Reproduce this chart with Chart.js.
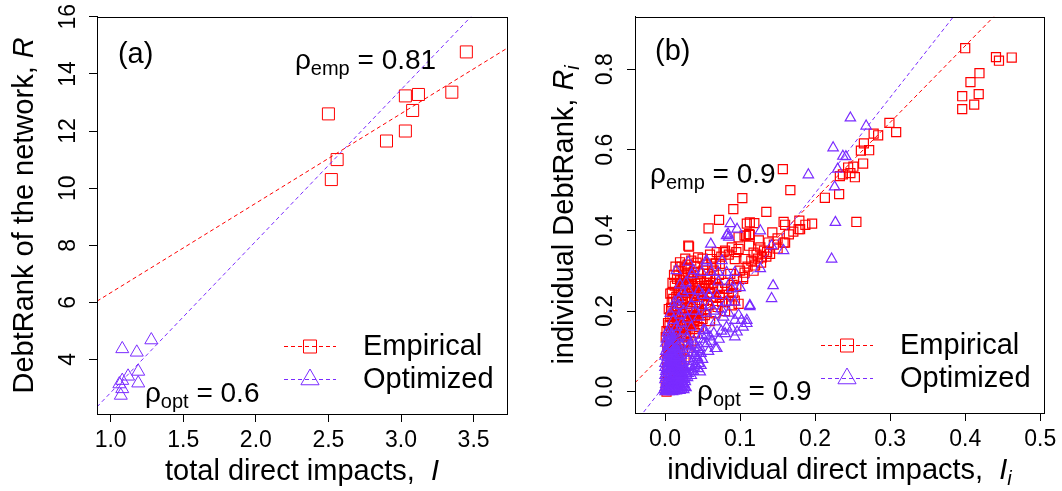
<!DOCTYPE html>
<html>
<head>
<meta charset="utf-8">
<script src="https://cdn.jsdelivr.net/npm/chart.js@4"></script>
<style>
  body { margin: 0; background: #fff; }
  canvas { position: absolute; top: 0; }
</style>
</head>
<body>
<canvas id="panelA" width="531" height="491" style="left:0"></canvas>
<canvas id="panelB" width="531" height="491" style="left:531px"></canvas>
<script>
// ---- panel (a): whole network ----
const totalEmpX = [2.50, 2.56, 2.52, 2.90, 3.03, 3.03, 3.12, 3.08, 3.35, 3.45];
const totalEmpY = [12.60, 11.00, 10.30, 11.65, 12.00, 13.23, 13.28, 12.72, 13.36, 14.77];
const totalOptX = [1.08, 1.18, 1.28, 1.19, 1.12, 1.08, 1.06, 1.19, 1.08, 1.07];
const totalOptY = [4.37, 4.25, 4.68, 3.58, 3.41, 3.26, 3.14, 3.17, 2.97, 2.74];
const totalFitEmp = [3.20, 3.136];   // intercept, slope
const totalFitOpt = [-2.467, 5.305];
const totalTicksX = [1.0, 1.5, 2.0, 2.5, 3.0, 3.5];
const totalTicksY = [4, 6, 8, 10, 12, 14, 16];
const rhoTotal = ["0.81", "0.6"];

// ---- panel (b): individual banks ----
const indivEmp = [
  [0.400,0.852],[0.441,0.830],[0.445,0.821],[0.462,0.829],[0.419,0.790],[0.407,0.768],[0.418,0.738],[0.396,0.733],[0.412,0.712],[0.396,0.701],
  [0.299,0.667],[0.308,0.644],[0.284,0.636],[0.278,0.640],[0.265,0.616],[0.272,0.599],[0.261,0.598],[0.264,0.566],[0.251,0.558],[0.244,0.556],
  [0.247,0.542],[0.253,0.532],[0.233,0.535],[0.237,0.539],[0.232,0.490],[0.213,0.481],[0.157,0.552],[0.167,0.500],[0.103,0.480],[0.091,0.453],
  [0.135,0.446],[0.072,0.426],[0.058,0.405],[0.113,0.420],[0.109,0.417],[0.119,0.418],[0.158,0.421],[0.179,0.424],[0.187,0.414],[0.196,0.417],
  [0.255,0.421],[0.143,0.395],[0.171,0.397],[0.178,0.403],[0.108,0.387],[0.113,0.389],[0.112,0.391],[0.160,0.414],[0.180,0.403],[0.031,0.362],
  [0.098,0.383],[0.106,0.387],[0.089,0.358],[0.098,0.354],[0.112,0.362],[0.127,0.358],[0.138,0.370],[0.160,0.370],[0.129,0.333],[0.140,0.342],
  [0.120,0.313],[0.107,0.329],[0.093,0.329],[0.080,0.350],[0.069,0.346],[0.062,0.329],[0.044,0.333],[0.020,0.321],[0.027,0.305],[0.018,0.300],
  [0.020,0.276],[0.036,0.280],[0.044,0.296],[0.104,0.284],[0.007,0.243],[0.013,0.263],[0.024,0.255],[0.040,0.268],[0.053,0.255],[0.076,0.255],
  [0.009,0.222],[0.027,0.226],[0.049,0.218],[0.093,0.226],[0.062,0.235],[0.098,0.218],[0.032,0.360],[0.158,0.370],[0.136,0.346],[0.095,0.346],
  [0.078,0.346],[0.051,0.300],[0.029,0.305],[0.047,0.280],[0.073,0.317],[0.087,0.292],[0.067,0.280],[0.009,0.245],[0.104,0.280],[0.150,0.380],
  [0.145,0.365],[0.165,0.390],[0.125,0.375],[0.118,0.345],[0.150,0.355],[0.076,0.222],[0.089,0.214],[0.067,0.194],[0.055,0.205],[0.045,0.200],
  [0.035,0.210],[0.030,0.195],[0.020,0.205],[0.015,0.190],[0.040,0.185],[0.050,0.180],[0.060,0.175],[0.025,0.175],[0.035,0.170],[0.012,0.170],
  [0.020,0.160],[0.030,0.155],[0.045,0.160],[0.008,0.150],[0.018,0.140],[0.028,0.140],[0.040,0.145],[0.005,0.130],[0.015,0.125],[0.025,0.120],
  [0.035,0.125],[0.010,0.110],[0.020,0.105],[0.030,0.100],[0.004,0.095],[0.012,0.090],[0.022,0.085],[0.008,0.075],[0.016,0.070],[0.003,0.060],
  [0.010,0.055],[0.018,0.050],[0.004,0.040],[0.012,0.035],[0.002,0.025],[0.008,0.020],[0.001,0.010],[0.005,0.005],[0.002,0.000],[0.015,0.235],
  [0.030,0.245],[0.045,0.250],[0.058,0.265],[0.035,0.290],[0.025,0.290],[0.050,0.240],[0.060,0.245],[0.070,0.260],[0.080,0.270],[0.085,0.240],
  [0.065,0.300],[0.055,0.315],[0.040,0.310],[0.010,0.270],[0.005,0.205],[0.030,0.230],[0.070,0.210],[0.080,0.200],
  [0.003,0.115],[0.006,0.125],[0.009,0.135],[0.012,0.145],[0.014,0.155],[0.017,0.165],[0.006,0.165],[0.010,0.180],[0.013,0.195],[0.016,0.210],
  [0.019,0.225],[0.022,0.240],[0.026,0.250],[0.028,0.265],[0.031,0.275],[0.034,0.285],[0.038,0.295],[0.022,0.215],[0.026,0.195],[0.029,0.185],
  [0.032,0.175],[0.037,0.190],[0.041,0.205],[0.043,0.220],[0.046,0.235],[0.052,0.225],[0.057,0.215],[0.048,0.195],[0.053,0.190],[0.036,0.235],
  [0.039,0.250],[0.042,0.262],[0.033,0.258],[0.028,0.232],[0.024,0.262],[0.019,0.250],[0.016,0.280],[0.012,0.290],[0.022,0.310],[0.014,0.310],
  [0.027,0.330],[0.035,0.325],[0.060,0.285],[0.064,0.270],[0.072,0.290],[0.077,0.240],[0.083,0.255],[0.090,0.265],[0.096,0.280],[0.100,0.300],
  [0.110,0.310],[0.115,0.325],[0.122,0.340],[0.132,0.350],[0.128,0.320],[0.010,0.200],[0.007,0.185],[0.004,0.170],[0.002,0.150],[0.001,0.135],
  [0.007,0.105],[0.013,0.115],[0.018,0.120],[0.023,0.135],[0.027,0.160],[0.033,0.145],[0.038,0.155],[0.043,0.175],[0.017,0.095],[0.024,0.100],
  [0.014,0.080],[0.009,0.065],[0.006,0.045],[0.003,0.080],[0.015,0.060],[0.020,0.065],[0.026,0.080],[0.047,0.270],[0.056,0.280],[0.062,0.255],
  [0.068,0.225],[0.073,0.235],[0.085,0.225],[0.091,0.245],[0.095,0.260],[0.106,0.295],[0.118,0.300],[0.124,0.330],[0.135,0.335],[0.030,0.315],
  [0.042,0.320],[0.050,0.330],[0.060,0.340],[0.075,0.335],[0.085,0.340],
  [0.011,0.230],[0.017,0.245],[0.021,0.270],[0.026,0.282],[0.031,0.295],[0.008,0.208],[0.015,0.218],[0.023,0.198],[0.034,0.222],[0.039,0.238],
  [0.044,0.243],[0.049,0.262],[0.054,0.270],[0.057,0.292],[0.063,0.310],[0.068,0.318],[0.032,0.265],[0.018,0.185],[0.024,0.165],[0.029,0.170],
  [0.039,0.172],[0.033,0.200],[0.011,0.158],[0.005,0.145],[0.021,0.148],[0.026,0.138],[0.031,0.118],[0.015,0.105],[0.009,0.095]
];
const indivOpt = [
  [0.247,0.679],[0.268,0.659],[0.224,0.605],[0.237,0.584],[0.241,0.583],[0.230,0.552],[0.191,0.538],[0.226,0.508],[0.227,0.420],[0.087,0.417],
  [0.096,0.403],[0.127,0.399],[0.084,0.391],[0.085,0.383],[0.061,0.366],[0.142,0.362],[0.158,0.350],[0.031,0.321],[0.056,0.321],[0.076,0.325],
  [0.049,0.296],[0.062,0.296],[0.071,0.296],[0.082,0.296],[0.093,0.296],[0.127,0.305],[0.071,0.272],[0.087,0.272],[0.100,0.258],[0.144,0.263],
  [0.142,0.231],[0.031,0.251],[0.013,0.222],[0.050,0.239],[0.059,0.239],[0.069,0.239],[0.082,0.222],[0.093,0.222],[0.113,0.214],[0.089,0.255],
  [0.222,0.329],[0.055,0.325],[0.082,0.387],[0.058,0.239],[0.040,0.231],[0.018,0.214],[0.007,0.194],[0.011,0.177],[0.004,0.152],[0.113,0.211],
  [0.098,0.190],[0.093,0.177],[0.102,0.177],[0.109,0.177],[0.082,0.160],[0.089,0.156],[0.096,0.148],[0.104,0.160],[0.109,0.169],[0.080,0.144],
  [0.093,0.136],[0.067,0.173],[0.067,0.107],[0.051,0.152],[0.049,0.140],[0.040,0.116],[0.044,0.104],[0.040,0.090],[0.044,0.079],[0.045,0.070],
  [0.039,0.061],[0.044,0.057],[0.031,0.111],[0.031,0.082],[0.033,0.062],[0.031,0.045],[0.069,0.107],[0.042,0.099],[0.036,0.054],[0.029,0.045],
  [0.047,0.049],[0.033,0.115],[0.029,0.136],[0.053,0.152],[0.060,0.136],[0.056,0.119],[0.020,0.190],[0.030,0.180],[0.015,0.160],[0.025,0.150],
  [0.035,0.160],[0.010,0.130],[0.020,0.120],[0.030,0.130],[0.040,0.200],[0.050,0.210],[0.025,0.200],
  [0.000,0.000],[0.005,0.000],[0.010,0.000],[0.015,0.002],[0.020,0.003],[0.025,0.005],[0.028,0.010],[0.000,0.010],[0.005,0.012],[0.010,0.012],
  [0.015,0.015],[0.020,0.018],[0.025,0.020],[0.002,0.025],[0.008,0.025],[0.013,0.028],[0.018,0.030],[0.023,0.032],[0.000,0.040],[0.005,0.038],
  [0.010,0.042],[0.015,0.045],[0.020,0.048],[0.025,0.050],[0.002,0.055],[0.007,0.058],[0.012,0.060],[0.017,0.062],[0.022,0.065],[0.000,0.070],
  [0.005,0.072],[0.010,0.075],[0.015,0.078],[0.020,0.080],[0.003,0.085],[0.008,0.088],[0.013,0.090],[0.018,0.095],[0.001,0.100],[0.006,0.102],
  [0.011,0.105],[0.004,0.115],[0.009,0.120],[0.002,0.130],[0.007,0.135],[0.003,0.145],[-0.001,0.005],[0.001,0.050],[0.003,0.020],[0.012,0.007],
  [0.018,0.010],[0.022,0.012],[0.027,0.025],[0.030,0.035],[0.028,0.045],
  [0.002,0.003],[0.007,0.004],[0.012,0.002],[0.017,0.005],[0.022,0.007],[0.026,0.012],[0.003,0.008],[0.008,0.016],[0.013,0.019],[0.017,0.022],
  [0.022,0.024],[0.026,0.030],[0.004,0.030],[0.009,0.033],[0.014,0.035],[0.019,0.038],[0.024,0.040],[0.029,0.040],[0.002,0.045],[0.007,0.046],
  [0.012,0.050],[0.017,0.053],[0.021,0.056],[0.026,0.058],[0.004,0.063],[0.009,0.066],[0.014,0.068],[0.019,0.072],[0.024,0.073],[0.002,0.078],
  [0.007,0.081],[0.012,0.083],[0.017,0.086],[0.022,0.090],[0.005,0.093],[0.010,0.096],[0.015,0.099],[0.020,0.104],[0.003,0.108],[0.008,0.110],
  [0.013,0.112],[0.017,0.116],[0.006,0.125],[0.011,0.128],[0.015,0.132],[0.004,0.138],[0.009,0.142],[0.001,0.120],[0.000,0.088],[0.000,0.060],
  [0.000,0.030],[0.001,0.018],[0.006,0.007],[0.011,0.021],[0.016,0.027],[0.021,0.033],[0.027,0.036],[0.013,0.044],[0.018,0.058],[0.023,0.070],
  [0.035,0.040],[0.038,0.050],[0.041,0.065],[0.037,0.075],[0.043,0.085],[0.048,0.095],[0.036,0.095],[0.046,0.110],[0.052,0.120],[0.038,0.125],
  [0.047,0.130],[0.055,0.140],[0.034,0.105],[0.050,0.080],[0.048,0.065],[0.058,0.100],[0.062,0.125],[0.065,0.145],[0.072,0.130],[0.075,0.150],
  [0.012,0.205],[0.018,0.230],[0.024,0.245],[0.028,0.270],[0.036,0.290],[0.022,0.170],[0.016,0.145],[0.035,0.215],[0.045,0.250],[0.045,0.185],
  [0.055,0.195],[0.060,0.215],[0.065,0.200],[0.075,0.205],[0.085,0.195],[0.078,0.185],[0.020,0.265],[0.038,0.300],[0.015,0.300],
  [0.004,0.004],[0.009,0.009],[0.014,0.010],[0.019,0.014],[0.024,0.016],[0.001,0.035],[0.006,0.050],[0.011,0.055],[0.016,0.040],[0.021,0.043],
  [0.004,0.068],[0.009,0.078],[0.014,0.085],[0.019,0.090],[0.003,0.095],[0.008,0.100],[0.012,0.118],[0.006,0.112]
];
const indivFitEmp = [0.098, 1.900];
const indivFitOpt = [0.017, 2.376];
const indivTicksX = [0.0, 0.1, 0.2, 0.3, 0.4, 0.5];
const indivTicksY = [0.0, 0.2, 0.4, 0.6, 0.8];
const rhoIndiv = ["0.9", "0.9"];

const seriesNames = ["Empirical", "Optimized"];

const EMP_COLOR = "#ff0000";
const OPT_COLOR = "#7a2bff";
const FAMILY = '"Liberation Sans", Arial, Helvetica, sans-serif';
const font = (size, italic) => (italic ? "italic " : "") + size + "px " + FAMILY;

// draw a run of text pieces: [text, size, italic, dy]
function drawParts(ctx, parts, x, y, align) {
  let w = 0;
  parts.forEach(p => { ctx.font = font(p[1], p[2]); w += ctx.measureText(p[0]).width; });
  let cx = align === "center" ? x - w / 2 : x;
  ctx.textAlign = "left";
  parts.forEach(p => {
    ctx.font = font(p[1], p[2]);
    ctx.fillText(p[0], cx, y + (p[3] || 0));
    cx += ctx.measureText(p[0]).width;
  });
}

function makeDecor(cfg) {
  return {
    id: "decor",
    afterDraw(chart) {
      const { ctx, chartArea: a, scales: { x, y } } = chart;
      ctx.save();
      ctx.strokeStyle = "#000";
      ctx.lineWidth = 1;
      ctx.strokeRect(Math.round(a.left) + 0.5, Math.round(a.top) + 0.5,
        Math.round(a.right - a.left), Math.round(a.bottom - a.top));
      ctx.fillStyle = "#000";

      // y tick labels, rotated like R
      ctx.textBaseline = "alphabetic";
      cfg.ticksY.forEach(v => {
        ctx.save();
        ctx.translate(a.left - cfg.yTickGap, y.getPixelForValue(v));
        ctx.rotate(-Math.PI / 2);
        ctx.font = font(23);
        ctx.textAlign = "center";
        ctx.fillText(cfg.fmtY(v), 0, 0);
        ctx.restore();
      });

      // axis titles
      ctx.save();
      ctx.translate(a.left - cfg.yTitleGap, (a.top + a.bottom) / 2);
      ctx.rotate(-Math.PI / 2);
      drawParts(ctx, cfg.yTitle, 0, 0, "center");
      ctx.restore();
      drawParts(ctx, cfg.xTitle, (a.left + a.right) / 2, a.bottom + 66, "center");

      // panel tag and correlations
      drawParts(ctx, [[cfg.tag, 29]], x.getPixelForValue(cfg.tagAt[0]), y.getPixelForValue(cfg.tagAt[1]), "left");
      cfg.rho.forEach(r => {
        drawParts(ctx, [["ρ", 28], [r.sub, 20, false, 6], [" = " + r.val, 28]],
          x.getPixelForValue(r.at[0]), y.getPixelForValue(r.at[1]), "left");
      });

      // legend
      seriesNames.forEach((name, i) => {
        const ly = Math.round(a.bottom - 68 + i * 33) + 0.5;
        const color = i ? OPT_COLOR : EMP_COLOR;
        ctx.strokeStyle = color;
        ctx.lineWidth = 1;
        ctx.setLineDash([4, 3]);
        ctx.beginPath();
        ctx.moveTo(a.right - 223, ly);
        ctx.lineTo(a.right - 171, ly);
        ctx.stroke();
        ctx.setLineDash([]);
        const mx = a.right - 197;
        ctx.beginPath();
        if (i === 0) {
          ctx.rect(mx - 6.5, ly - 6.5, 13, 13);
        } else {
          const r = 10.5;
          ctx.moveTo(mx, ly - r);
          ctx.lineTo(mx + r * 0.866, ly + r / 2);
          ctx.lineTo(mx - r * 0.866, ly + r / 2);
          ctx.closePath();
        }
        ctx.stroke();
        ctx.fillStyle = "#000";
        ctx.textBaseline = "middle";
        drawParts(ctx, [[name, 29]], a.right - 144, ly, "left");
        ctx.textBaseline = "alphabetic";
      });
      ctx.restore();
    }
  };
}

function fitLine(fit, xMin, xMax) {
  return [xMin, xMax].map(v => ({ x: v, y: fit[0] + fit[1] * v }));
}

function makePanel(id, cfg) {
  const pointSet = (pts, color, style, r, order) => ({
    data: pts, order,
    pointStyle: style, pointRadius: r, pointHoverRadius: r,
    pointBorderColor: color, pointBackgroundColor: "rgba(0,0,0,0)", pointBorderWidth: cfg.markLine,
    showLine: false
  });
  const lineSet = (fit, color) => ({
    data: fitLine(fit, cfg.xMin, cfg.xMax), order: 0,
    showLine: true, pointRadius: 0, borderColor: color, borderWidth: 1, borderDash: [4, 3]
  });
  return new Chart(document.getElementById(id), {
    type: "scatter",
    data: {
      datasets: [
        pointSet(cfg.emp, EMP_COLOR, "rect", cfg.squareR, 2),
        pointSet(cfg.opt, OPT_COLOR, "triangle", cfg.triR, 1),
        lineSet(cfg.fitEmp, EMP_COLOR),
        lineSet(cfg.fitOpt, OPT_COLOR)
      ]
    },
    options: {
      responsive: false,
      animation: false,
      devicePixelRatio: 1,
      layout: { padding: { top: 15, right: cfg.padRight, left: 0, bottom: 0 } },
      plugins: { legend: { display: false }, tooltip: { enabled: false } },
      scales: {
        x: {
          type: "linear", min: cfg.xMin, max: cfg.xMax,
          afterBuildTicks: s => { s.ticks = cfg.ticksX.map(v => ({ value: v })); },
          afterFit: s => { s.height = cfg.xAxisHeight; },
          grid: { drawOnChartArea: false, tickLength: 8, tickColor: "#000", color: "#000" },
          border: { color: "#000" },
          ticks: { color: "#000", font: { family: FAMILY, size: 23 }, padding: 5,
                   maxRotation: 0, callback: v => v.toFixed(1) }
        },
        y: {
          type: "linear", min: cfg.yMin, max: cfg.yMax,
          afterBuildTicks: s => { s.ticks = cfg.ticksY.map(v => ({ value: v })); },
          afterFit: s => { s.width = cfg.yAxisWidth; },
          grid: { drawOnChartArea: false, tickLength: 8, tickColor: "#000", color: "#000" },
          border: { color: "#000" },
          ticks: { color: "rgba(0,0,0,0)", font: { family: FAMILY, size: 23 } }
        }
      }
    },
    plugins: [makeDecor(cfg)]
  });
}

makePanel("panelA", {
  emp: totalEmpX.map((v, i) => ({ x: v, y: totalEmpY[i] })),
  opt: totalOptX.map((v, i) => ({ x: v, y: totalOptY[i] })),
  fitEmp: totalFitEmp, fitOpt: totalFitOpt,
  xMin: 0.906, xMax: 3.73, yMin: 2.09, yMax: 16.0,
  ticksX: totalTicksX, ticksY: totalTicksY, fmtY: v => String(v),
  yAxisWidth: 97, xAxisHeight: 77, padRight: 24,
  squareR: 8.5, triR: 7.5, markLine: 1,
  yTickGap: 22, yTitleGap: 64,
  tag: "(a)", tagAt: [1.05, 14.37],
  xTitle: [["total direct impacts,  ", 29], ["I", 29, true]],
  yTitle: [["DebtRank of the network, ", 29], ["R", 29, true]],
  rho: [{ sub: "emp", val: rhoTotal[0], at: [2.269, 14.185] },
        { sub: "opt", val: rhoTotal[1], at: [1.236, 2.503] }]
});

makePanel("panelB", {
  emp: indivEmp.map(p => ({ x: p[0], y: p[1] })),
  opt: indivOpt.map(p => ({ x: p[0], y: p[1] })),
  fitEmp: indivFitEmp, fitOpt: indivFitOpt,
  xMin: -0.04, xMax: 0.505, yMin: -0.053, yMax: 0.93,
  ticksX: indivTicksX, ticksY: indivTicksY, fmtY: v => v.toFixed(1),
  yAxisWidth: 104, xAxisHeight: 78, padRight: 18,
  squareR: 6.4, triR: 6, markLine: 1.2,
  yTickGap: 23, yTitleGap: 62,
  tag: "(b)", tagAt: [-0.0133, 0.824],
  xTitle: [["individual direct impacts,  ", 29], ["I", 29, true], ["i", 20, true, 6]],
  yTitle: [["individual DebtRank, ", 29], ["R", 29, true], ["i", 20, true, 6]],
  rho: [{ sub: "emp", val: rhoIndiv[0], at: [-0.020, 0.5165] },
        { sub: "opt", val: rhoIndiv[1], at: [0.0427, -0.0205] }]
});
</script>
</body>
</html>
